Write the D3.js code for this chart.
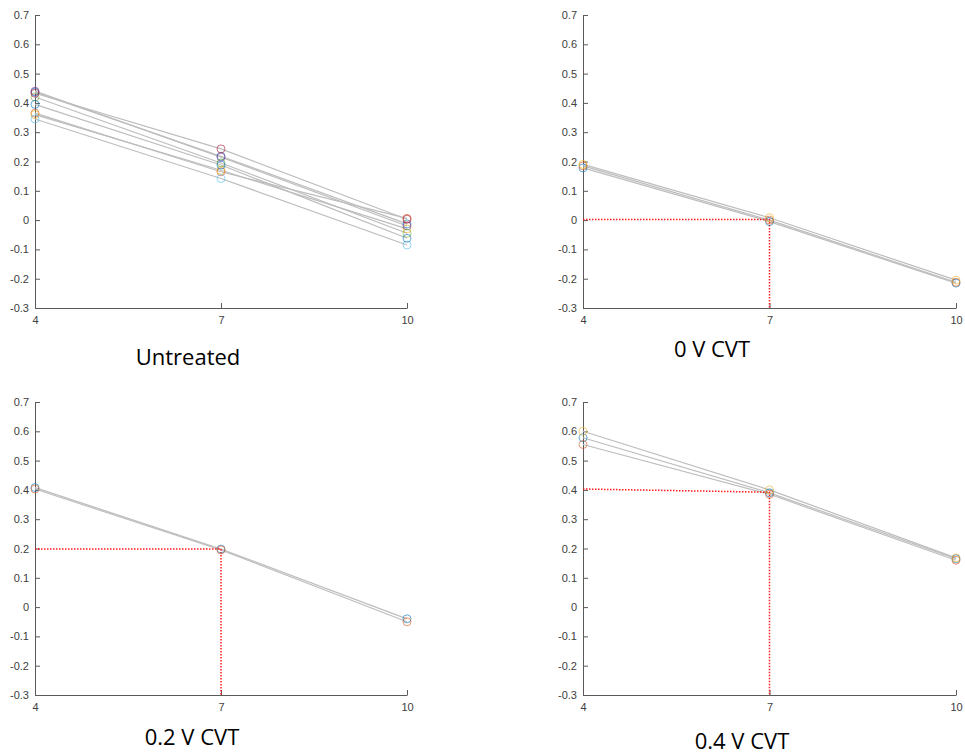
<!DOCTYPE html>
<html>
<head>
<meta charset="utf-8">
<script src="https://cdn.jsdelivr.net/npm/d3@7"></script>
<style>
  html, body { margin: 0; padding: 0; background: #ffffff; }
  svg { display: block; }
</style>
</head>
<body>
<svg id="chart" width="965" height="755"></svg>
<script>
// Shared axis values
const xTicks = [4, 7, 10];
const yTicks = [0.7, 0.6, 0.5, 0.4, 0.3, 0.2, 0.1, 0, -0.1, -0.2, -0.3];

// Panel titles
const titles = ["Untreated", "0 V CVT", "0.2 V CVT", "0.4 V CVT"];

// Series values at x = 4, 7, 10 for each panel
const untreatedSeries = [
  [0.437, 0.218, -0.013],
  [0.365, 0.165, 0.006],
  [0.360, 0.170, -0.030],
  [0.440, 0.215, -0.020],
  [0.420, 0.195, -0.045],
  [0.345, 0.142, -0.085],
  [0.433, 0.243, 0.003],
  [0.395, 0.188, -0.062]
];
const cvt0Series = [
  [0.178, -0.005, -0.215],
  [0.185, 0.000, -0.212],
  [0.190, 0.008, -0.205]
];
const cvt02Series = [
  [0.408, 0.198, -0.040],
  [0.403, 0.195, -0.050]
];
const cvt04Series = [
  [0.578, 0.390, 0.165],
  [0.555, 0.385, 0.160],
  [0.600, 0.400, 0.168]
];

// Red dotted read-off guides: [start at x=4, value at x=7]
const cvt0Guide = [0.002, 0.002];
const cvt02Guide = [0.198, 0.198];
const cvt04Guide = [0.403, 0.392];

// Marker colour order
const markerColors = ["#0072BD", "#D95319", "#EDB120", "#7E2F8E", "#77AC30", "#4DBEEE", "#A2142F"];

const panels = [
  { series: untreatedSeries, guide: null, title: titles[0],
    left: 35, right: 407, top: 15, bottom: 308, titleX: 188, titleY: 365 },
  { series: cvt0Series, guide: cvt0Guide, title: titles[1],
    left: 583, right: 956, top: 15, bottom: 308, titleX: 712, titleY: 357 },
  { series: cvt02Series, guide: cvt02Guide, title: titles[2],
    left: 35, right: 407, top: 402, bottom: 695, titleX: 192, titleY: 745 },
  { series: cvt04Series, guide: cvt04Guide, title: titles[3],
    left: 583, right: 956, top: 402, bottom: 695, titleX: 742, titleY: 749 }
];

const svg = d3.select("#chart");
const axisColor = "#5a5a5a";
const labelColor = "#404040";

panels.forEach(p => {
  const x = d3.scaleLinear().domain([4, 10]).range([p.left, p.right]);
  const y = d3.scaleLinear().domain([-0.3, 0.7]).range([p.bottom, p.top]);
  const g = svg.append("g");

  // Y axis with inward ticks
  const yAxis = d3.axisLeft(y).tickValues(yTicks).tickSizeInner(-5).tickSizeOuter(0)
    .tickPadding(6)
    .tickFormat(d => String(Math.round(d * 10) / 10));
  const ya = g.append("g").attr("transform", `translate(${p.left},0)`).call(yAxis);

  // X axis with inward ticks
  const xAxis = d3.axisBottom(x).tickValues(xTicks).tickSizeInner(-5).tickSizeOuter(0)
    .tickPadding(8)
    .tickFormat(d3.format("d"));
  const xa = g.append("g").attr("transform", `translate(0,${p.bottom})`).call(xAxis);

  [ya, xa].forEach(a => {
    a.select(".domain").attr("stroke", axisColor).attr("stroke-width", 1);
    a.selectAll(".tick line").attr("stroke", axisColor);
    a.selectAll(".tick text")
      .attr("fill", labelColor)
      .style("font-family", "'Liberation Sans', Arial, sans-serif")
      .style("font-size", "11px");
  });

  // Gray connecting lines
  const line = d3.line().x((d, i) => x(xTicks[i])).y(d => y(d));
  g.selectAll("path.series").data(p.series).enter().append("path")
    .attr("class", "series")
    .attr("d", d => line(d))
    .attr("fill", "none")
    .attr("stroke", "#bdbdbd")
    .attr("stroke-width", 1.2);

  // Red dotted guide
  if (p.guide) {
    const pts = [[4, p.guide[0]], [7, p.guide[1]], [7, -0.3]];
    g.append("path")
      .attr("d", d3.line().x(d => x(d[0])).y(d => y(d[1]))(pts))
      .attr("fill", "none")
      .attr("stroke", "#ff1a1a")
      .attr("stroke-width", 1.5)
      .attr("stroke-dasharray", "1.5,1.5");
  }

  // Circle markers
  p.series.forEach((s, si) => {
    g.selectAll(null).data(s).enter().append("circle")
      .attr("cx", (d, i) => x(xTicks[i]))
      .attr("cy", d => y(d))
      .attr("r", 4)
      .attr("fill", "none")
      .attr("stroke", markerColors[si % markerColors.length])
      .attr("stroke-opacity", 0.6)
      .attr("stroke-width", 1);
  });

  // Panel title
  svg.append("text")
    .attr("x", p.titleX)
    .attr("y", p.titleY)
    .attr("text-anchor", "middle")
    .attr("fill", "#000")
    .style("font-family", "'Open Sans', 'Liberation Sans', sans-serif")
    .style("font-size", "22px")
    .text(p.title);
});
</script>
</body>
</html>
